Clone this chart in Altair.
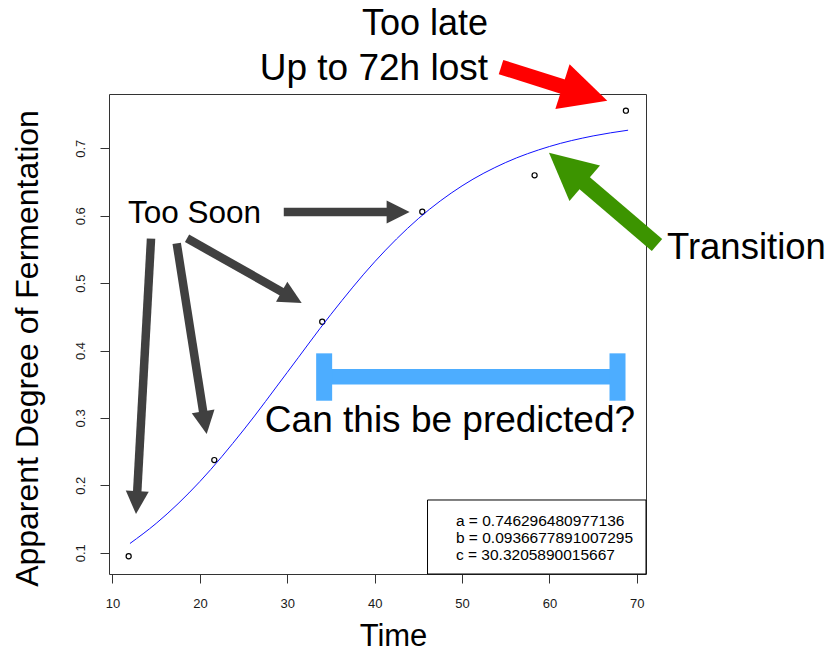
import math
import altair as alt
import pandas as pd

# ---------------- data ----------------
time_h = [11.85, 21.65, 34.0, 45.45, 58.3, 68.75]
adf = [0.0947, 0.2375, 0.4427, 0.6059, 0.660, 0.7558]

fit_time = [12, 15, 20, 25, 30, 35, 40, 45, 50, 55, 60, 65, 69]
fit_adf = [0.1137, 0.1435, 0.2056, 0.2821, 0.3676, 0.4537, 0.5316,
           0.5957, 0.6443, 0.6790, 0.7027, 0.7184, 0.7269]

legend_lines = ["a = 0.746296480977136",
                "b = 0.0936677891007295",
                "c = 30.3205890015667"]

x_ticks = [10, 20, 30, 40, 50, 60, 70]
y_ticks = [0.1, 0.2, 0.3, 0.4, 0.5, 0.6, 0.7]

# ---------------- layout ----------------
X0, X1 = 9.6, 71.05
Y0, Y1 = 0.0684, 0.7806
W, H = 537, 480
PPX = W / (X1 - X0)
PPY = H / (Y1 - Y0)
FONT = "Liberation Sans"

xs = alt.Scale(domain=[X0, X1], nice=False, zero=False)
ys = alt.Scale(domain=[Y0, Y1], nice=False, zero=False)

x_axis = alt.Axis(values=x_ticks, title="Time", titleX=284, titleY=71,
                  titleAlign="center", titleBaseline="alphabetic",
                  titleFontSize=31, titleFont=FONT, titleFontWeight="normal",
                  titleColor="black", labelBaseline="alphabetic",
                  labelPadding=24, labelAlign="center", labelFlush=False,
                  format="d")
y_axis = alt.Axis(values=y_ticks, title="Apparent Degree of Fermentation",
                  titleX=-72, titleY=254, titleAngle=270, titleAlign="center",
                  titleBaseline="alphabetic", titleFontSize=32, titleFont=FONT,
                  titleFontWeight="normal", titleColor="black",
                  labelAngle=270, labelAlign="center", labelBaseline="alphabetic",
                  labelPadding=16, labelFlush=False, format=".1f")


def X():
    return alt.X("t:Q", scale=xs, axis=x_axis)


def Y():
    return alt.Y("v:Q", scale=ys, axis=y_axis)


pts = pd.DataFrame({"t": time_h, "v": adf})
fit = pd.DataFrame({"t": fit_time, "v": fit_adf})

points = alt.Chart(pts).mark_point(shape="circle", filled=False, color="black",
                                   size=26, strokeWidth=1.2, opacity=1).encode(x=X(), y=Y())
curve = alt.Chart(fit).mark_line(color="#1010FF", strokeWidth=1,
                                 interpolate="monotone").encode(x=X(), y=Y())

# legend box
lbox = pd.DataFrame({"t": [46.05], "v": [Y0], "t2": [X1], "v2": [0.1782]})
legend_rect = alt.Chart(lbox).mark_rect(fill="white", stroke="black",
                                        strokeWidth=1).encode(
    x=X(), y=Y(), x2="t2:Q", y2="v2:Q")
ltext = pd.DataFrame({"t": [49.3] * 3, "v": [0.147, 0.1218, 0.0966],
                      "label": legend_lines})
legend_text = alt.Chart(ltext).mark_text(align="left", baseline="middle",
                                         font=FONT, fontSize=15.5,
                                         color="black").encode(
    x=X(), y=Y(), text="label:N")


def arrow(tail, tip, color, shaft_w, head):
    dx = (tip[0] - tail[0]) * PPX
    dy = -(tip[1] - tail[1]) * PPY
    L = math.hypot(dx, dy)
    ux, uy = dx / L, dy / L
    end_t = tip[0] - 0.5 * head * ux / PPX
    end_v = tip[1] + 0.5 * head * uy / PPY
    angle = round(math.degrees(math.atan2(dx, -dy)) % 360, 3)
    shaft = pd.DataFrame({"t": [tail[0]], "v": [tail[1]],
                          "t2": [end_t], "v2": [end_v]})
    rule = alt.Chart(shaft).mark_rule(color=color, strokeWidth=shaft_w,
                                      strokeCap="butt").encode(
        x=X(), y=Y(), x2="t2:Q", y2="v2:Q")
    hd = pd.DataFrame({"t": [tip[0]], "v": [tip[1]]})
    headm = alt.Chart(hd).mark_point(shape="M0,0L1,2L-1,2Z", filled=True,
                                     color=color, opacity=1, strokeWidth=0,
                                     size=head * head, angle=angle).encode(
        x=X(), y=Y())
    return [rule, headm]


GRAY = "#404040"
layers = [points, curve, legend_rect, legend_text]
layers += arrow((29.6, 0.6055), (44.0, 0.6055), GRAY, 8.5, 23)
layers += arrow((18.53, 0.5665), (31.65, 0.4705), GRAY, 8.5, 23)
layers += arrow((17.35, 0.559), (20.78, 0.276), GRAY, 8.5, 23)
layers += arrow((14.41, 0.566), (12.69, 0.1574), GRAY, 8.5, 23)
layers += arrow((54.46, 0.8206), (66.62, 0.7706), "#FF0000", 15, 47)
layers += arrow((72.31, 0.5565), (59.95, 0.6935), "#3C9400", 16, 47)

# blue bracket
BLUE = "#4DADFF"
bar = pd.DataFrame({"t": [34.22], "v": [0.3611], "t2": [67.79], "v2": [0.3611]})
caps = pd.DataFrame({"t": [34.22, 67.79], "v": [0.3255, 0.3255],
                     "t2": [34.22, 67.79], "v2": [0.3958, 0.3958]})
layers.append(alt.Chart(bar).mark_rule(color=BLUE, strokeWidth=15.5,
                                       strokeCap="butt").encode(
    x=X(), y=Y(), x2="t2:Q", y2="v2:Q"))
layers.append(alt.Chart(caps).mark_rule(color=BLUE, strokeWidth=16,
                                        strokeCap="butt").encode(
    x=X(), y=Y(), x2="t2:Q", y2="v2:Q"))


def label(text, t, v, size, align):
    df = pd.DataFrame({"t": [t], "v": [v], "label": [text]})
    return alt.Chart(df).mark_text(align=align, baseline="alphabetic",
                                   font=FONT, fontSize=size,
                                   color="black").encode(
        x=X(), y=Y(), text="label:N")


layers.append(label("Too late", 52.97, 0.8681, 36, "right"))
layers.append(label("Up to 72h lost", 52.97, 0.8014, 37, "right"))
layers.append(label("Too Soon", 11.77, 0.5892, 31.5, "left"))
layers.append(label("Transition", 73.45, 0.5358, 36.5, "left"))
layers.append(label("Can this be predicted?", 48.62, 0.2791, 37, "center"))

chart = alt.layer(*layers).properties(
    width=W, height=H,
    padding={"left": 109, "top": 94, "right": 183, "bottom": 80},
    autosize=alt.AutoSizeParams(type="none"),
    background="white",
).configure_view(stroke="#333333", strokeWidth=1).configure_axis(
    grid=False, domain=False, ticks=True, tickColor="#333333", tickWidth=1,
    tickSize=9, labelFont=FONT, labelFontSize=13, labelColor="#1a1a1a",
    labelOverlap=False,
)

chart.save("out.html", embed_options={"renderer": "svg", "actions": False})
